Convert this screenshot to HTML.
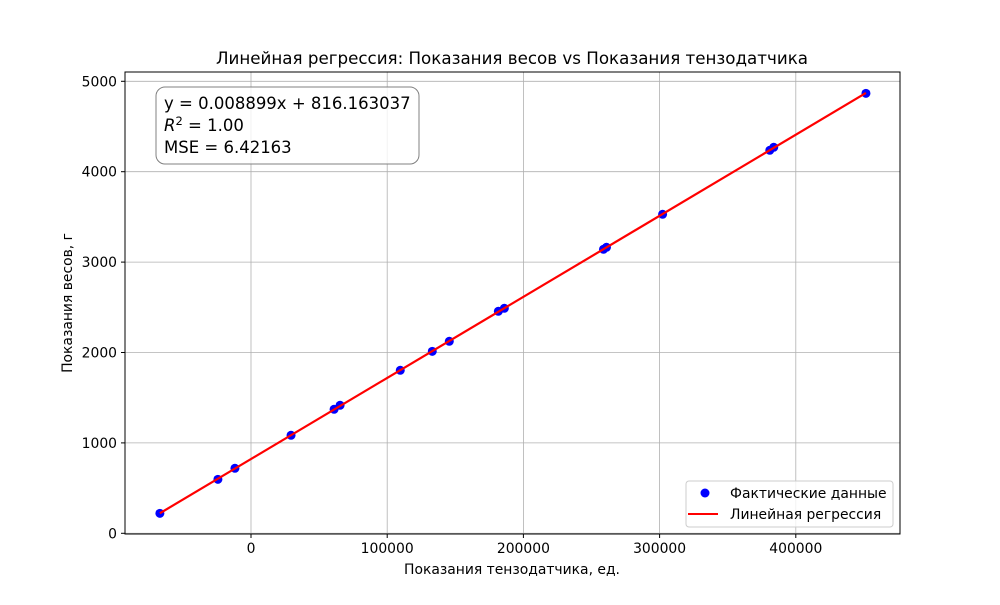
<!DOCTYPE html>
<html><head><meta charset="utf-8"><style>
body{margin:0;background:#fff;font-family:"Liberation Sans","DejaVu Sans",sans-serif}
svg text{font-family:"DejaVu Sans","Liberation Sans",sans-serif}
</style></head><body>
<svg id="chart" width="1000" height="600" xmlns="http://www.w3.org/2000/svg">
<rect width="1000" height="600" fill="#fff"/>
<g id="grid"></g>
<g id="ticks"></g>
<g id="marks"></g>
<rect x="125" y="72" width="775" height="462" fill="none" stroke="#000" stroke-width="1"/>
<text x="512" y="64" text-anchor="middle" font-size="16.7">Линейная регрессия: Показания весов vs Показания тензодатчика</text>
<text x="512" y="574" text-anchor="middle" font-size="13.9">Показания тензодатчика, ед.</text>
<text transform="translate(72,303) rotate(-90)" text-anchor="middle" font-size="13.9">Показания весов, г</text>
<g>
<rect x="156" y="87" width="263" height="77" rx="9" fill="#fff" fill-opacity="0.8" stroke="#808080"/>
<text x="164" y="109" font-size="16.5">y = 0.008899x + 816.163037</text>
<text x="164" y="131" font-size="16.5"><tspan font-style="italic">R</tspan><tspan dy="-6" font-size="11.5">2</tspan><tspan dy="6"> = 1.00</tspan></text>
<text x="164" y="153" font-size="16.5">MSE = 6.42163</text>
</g>
<g>
<rect x="686" y="481" width="207" height="46" rx="3" fill="#fff" fill-opacity="0.8" stroke="#ccc"/>
<circle cx="705" cy="493" r="4.5" fill="#0000ff"/>
<text x="730" y="498" font-size="13.9">Фактические данные</text>
<line x1="688" y1="514" x2="718" y2="514" stroke="#ff0000" stroke-width="2"/>
<text x="730" y="519" font-size="13.9">Линейная регрессия</text>
</g>
</svg>
<script>
const xData=[-66900,-24300,-11800,29400,61000,65400,109600,133100,145600,181600,186000,258800,261000,302200,380900,383800,451500];
const yData=[221,597,719,1084,1372,1416,1803,2013,2124,2456,2489,3142,3164,3529,4237,4270,4867];
const xTicks=[0,100000,200000,300000,400000];
const yTicks=[0,1000,2000,3000,4000,5000];
const NS="http://www.w3.org/2000/svg";
function sx(v){return 251+v*0.001362;}
function sy(v){return 533.3-v*0.0904;}
function mk(t,a,p){const e=document.createElementNS(NS,t);for(const k in a)e.setAttribute(k,a[k]);p.appendChild(e);return e;}
const grid=document.getElementById('grid'),ticks=document.getElementById('ticks'),marks=document.getElementById('marks');
xTicks.forEach(v=>{const x=sx(v);
const g=mk('line',{x1:x,x2:x,y1:72,y2:534,stroke:'#b0b0b0','stroke-width':0.8},grid);


mk('line',{x1:x,x2:x,y1:534,y2:538,stroke:'#000'},ticks);
const t=mk('text',{x:x,y:553,'text-anchor':'middle','font-size':13.9},ticks);t.textContent=v;

});
yTicks.forEach(v=>{const y=sy(v);
const g=mk('line',{x1:125,x2:900,y1:y,y2:y,stroke:'#b0b0b0','stroke-width':0.8},grid);


mk('line',{x1:121,x2:125,y1:y,y2:y,stroke:'#000'},ticks);
const t=mk('text',{x:117,y:y+5,'text-anchor':'end','font-size':13.9},ticks);t.textContent=v;

});
const n=xData.length;
const mx=xData.reduce((a,b)=>a+b,0)/n, my=yData.reduce((a,b)=>a+b,0)/n;
let sxy=0,sxx=0;xData.forEach((v,i)=>{sxy+=(v-mx)*(yData[i]-my);sxx+=(v-mx)*(v-mx);});
const slope=sxy/sxx, intercept=my-slope*mx;
const xmin=Math.min(...xData),xmax=Math.max(...xData);
xData.forEach((v,i)=>{const c=mk('circle',{cx:sx(v),cy:sy(yData[i]),r:4.5,fill:'#0000ff'},marks);

});
const l=mk('line',{x1:sx(xmin),y1:sy(slope*xmin+intercept),x2:sx(xmax),y2:sy(slope*xmax+intercept),stroke:'#ff0000','stroke-width':2.2},marks);


</script>
</body></html>
